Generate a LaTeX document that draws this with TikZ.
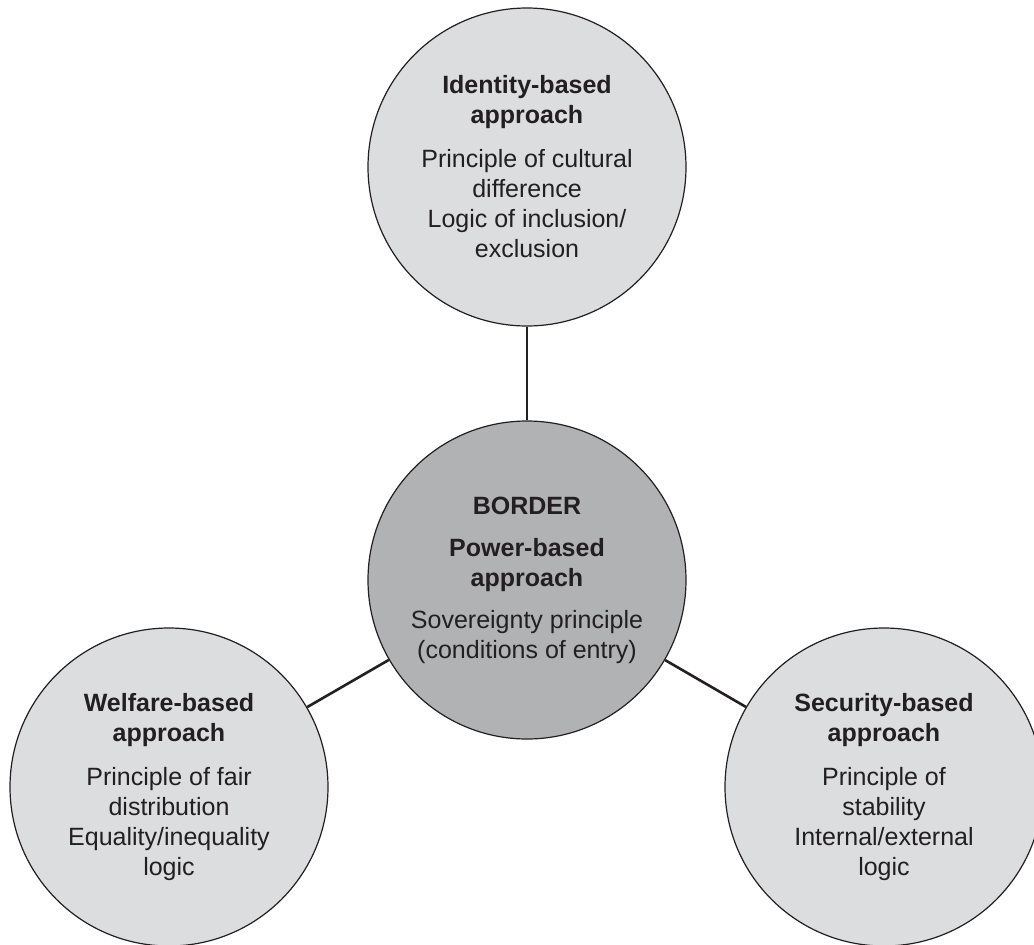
\documentclass[tikz,border=0pt]{standalone}
\usepackage{fontspec}
\setmainfont{Liberation Sans}
\definecolor{lightdisc}{HTML}{DCDDDF}
\definecolor{darkdisc}{HTML}{B1B2B4}
\definecolor{ink}{HTML}{231F20}
\begin{document}
\begin{tikzpicture}[x=1pt,y=-1pt,
  disc/.style={circle, draw=ink, line width=1.2pt, minimum size=318pt,
    inner sep=0pt, align=center, text=ink,
    font=\fontsize{25}{30}\selectfont},
  approachdisc/.style={disc, fill=lightdisc},
  coredisc/.style={disc, fill=darkdisc},
  link/.style={draw=ink, line width=2.6pt}]
  \useasboundingbox (0,0) rectangle (1034,945);

  % the four approaches, with the power-based one at the centre
  \node[coredisc] (power) at (527,580)
    {\textbf{BORDER}\\[12pt]
     \textbf{Power-based}\\\textbf{approach}\\[12pt]
     Sovereignty principle\\(conditions of entry)};
  \node[approachdisc] (identity) at (527,167)
    {\textbf{Identity-based}\\\textbf{approach}\\[14pt]
     Principle of cultural\\difference\\Logic of inclusion/\\exclusion};
  \node[approachdisc] (welfare) at (169,787)
    {\textbf{Welfare-based}\\\textbf{approach}\\[14pt]
     Principle of fair\\distribution\\Equality/inequality\\logic};
  \node[approachdisc] (security) at (884,787)
    {\textbf{Security-based}\\\textbf{approach}\\[14pt]
     Principle of\\stability\\Internal/external\\logic};

  % spokes from the centre to each approach
  \draw[link] (power) -- (identity);
  \draw[link] (power) -- (welfare);
  \draw[link] (power) -- (security);
\end{tikzpicture}
\end{document}
